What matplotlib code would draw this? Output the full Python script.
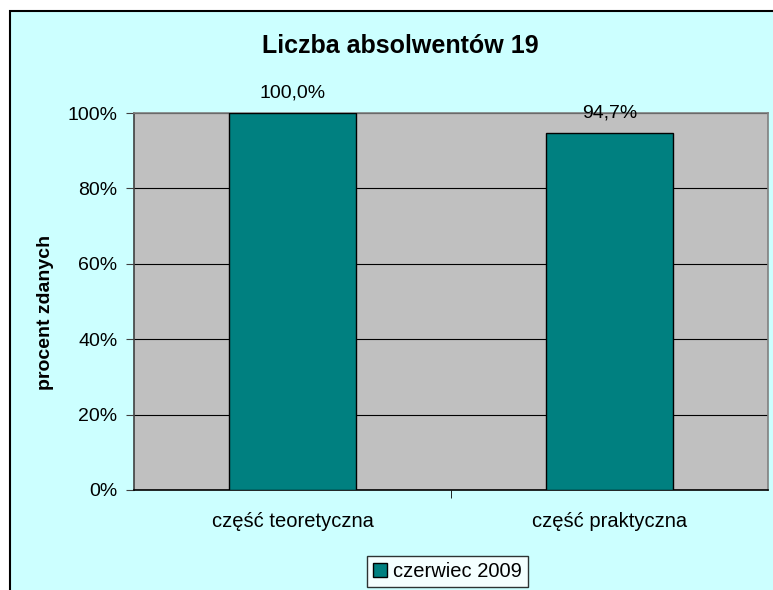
import matplotlib.pyplot as plt
from matplotlib.patches import Rectangle
from matplotlib.ticker import FuncFormatter

# data
categories = ["część teoretyczna", "część praktyczna"]
values = [100.0, 94.7]
series_name = "czerwiec 2009"
title = "Liczba absolwentów 19"
ylabel = "procent zdanych"

plt.rcParams["font.family"] = ["Liberation Sans", "DejaVu Sans"]

W, H = 773, 590
fig = plt.figure(figsize=(W / 100, H / 100), dpi=100)
fig.patch.set_facecolor("white")

# outer chart frame (cyan, cut off at right and bottom)
fig.patches.append(Rectangle((10 / W, -0.05), 1.0, (H - 11) / H + 0.05,
                             transform=fig.transFigure, facecolor="#CCFFFF",
                             edgecolor="black", linewidth=1.5, zorder=-1))

# plot area
left, right, top, bottom = 134, 768, 113, 490
ax = fig.add_axes([left / W, 1 - bottom / H, (right - left) / W, (bottom - top) / H])
ax.set_facecolor("#C0C0C0")

x = list(range(len(categories)))
bars = ax.bar(x, values, width=0.4, color="#008080", edgecolor="black",
              linewidth=1, zorder=3, label=series_name)

ax.set_xlim(-0.5, len(categories) - 0.5)
ax.set_ylim(0, 100)
ax.set_yticks(range(0, 101, 20))
ax.yaxis.set_major_formatter(FuncFormatter(lambda v, p: f"{v:.0f}%"))
ax.yaxis.grid(True, color="black", linewidth=0.8, zorder=1)
ax.set_axisbelow(True)

ax.set_xticks(x)
ax.set_xticklabels(categories)
ax.set_xticks([0.5], minor=True)
ax.tick_params(axis="x", which="major", length=0, pad=16, labelsize=14.5)
ax.tick_params(axis="x", which="minor", length=6, color="black")
ax.tick_params(axis="y", length=6, color="#404040", labelsize=14, pad=6)

for s in ["top", "right"]:
    ax.spines[s].set_color("#808080")
    ax.spines[s].set_linewidth(1.2)
ax.spines["left"].set_color("#404040")
ax.spines["left"].set_linewidth(1.2)
ax.spines["bottom"].set_color("black")
ax.spines["bottom"].set_linewidth(1.2)

# value labels
for b, v in zip(bars, values):
    ax.annotate(f"{v:.1f}%".replace(".", ","), (b.get_x() + b.get_width() / 2, v),
                xytext=(0, 8), textcoords="offset points", ha="center",
                va="bottom", fontsize=14, annotation_clip=False)

fig.text(400 / W, 1 - 46 / H, title, ha="center", va="center",
         fontsize=18, fontweight="bold")
fig.text(46 / W, 1 - 312 / H, ylabel, ha="center", va="center",
         rotation=90, fontsize=14, fontweight="bold")

leg = fig.legend(handles=[bars], labels=[series_name], loc="upper left",
                 bbox_to_anchor=(367 / W, 1 - 556 / H), fontsize=14.5,
                 frameon=True, fancybox=False, handlelength=0.7,
                 handleheight=0.7, handletextpad=0.3, borderpad=0.3,
                 borderaxespad=0)
leg.get_frame().set_edgecolor("black")
leg.get_frame().set_facecolor("white")
leg.get_frame().set_linewidth(1)

fig.savefig("out.png", dpi=100)
